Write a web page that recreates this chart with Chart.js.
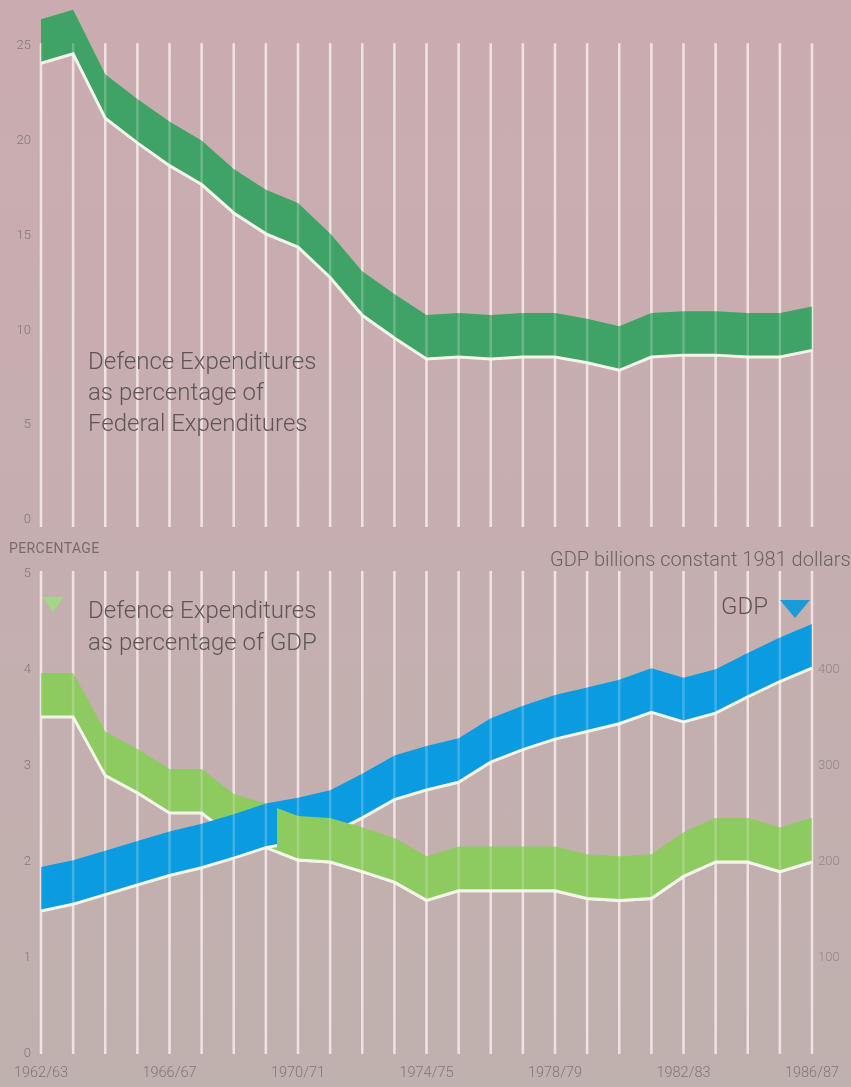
<!DOCTYPE html>
<html>
<head>
<meta charset="utf-8">
<script src="https://cdn.jsdelivr.net/npm/chart.js@4.4.0/dist/chart.umd.min.js"></script>
<style>
    html, body { margin: 0; padding: 0; }
    body {
        width: 851px; height: 1087px; position: relative; overflow: hidden;
        background: linear-gradient(#caacb0, #c6aeaf 50%, #bfb1ae);
        font-family: Roboto, sans-serif;
    }
    .box { position: absolute; left: 0; width: 851px; }
    #top-box { top: 0; height: 540px; }
    #bottom-box { top: 540px; height: 547px; }
    canvas { display: block; }
    .note { position: absolute; color: #5e5656; font-weight: 300; font-size: 24px; line-height: 31px; white-space: nowrap; }
    .small { position: absolute; color: #776b6b; white-space: nowrap; }
    .tri { position: absolute; width: 0; height: 0; border-left-style: solid; border-right-style: solid; border-left-color: transparent; border-right-color: transparent; border-top-style: solid; }
</style>
</head>
<body>
<div class="box" id="top-box"><canvas id="chart-federal" width="851" height="540"></canvas></div>
<div class="box" id="bottom-box"><canvas id="chart-gdp" width="851" height="547"></canvas></div>

<div class="note" style="left:88px; top:346px;">Defence Expenditures<br>as percentage of<br>Federal Expenditures</div>
<div class="small" style="left:9px; top:540px; font-size:14px; letter-spacing:0.4px;">PERCENTAGE</div>
<div class="small" style="left:550px; top:547px; font-size:20px; font-weight:300; color:#6b6262;">GDP billions constant 1981 dollars</div>
<div class="tri" style="left:42px; top:597px; border-left-width:11px; border-right-width:11px; border-top-width:15px; border-top-color:#a6d488;"></div>
<div class="note" style="left:88px; top:594px; line-height:32px;">Defence Expenditures<br>as percentage of GDP</div>
<div class="note" style="left:721px; top:591px;">GDP</div>
<div class="tri" style="left:780px; top:600px; border-left-width:15px; border-right-width:15px; border-top-width:18px; border-top-color:#1b9ad8;"></div>

<script>
const years = ['1962/63', '1963/64', '1964/65', '1965/66', '1966/67', '1967/68', '1968/69', '1969/70',
    '1970/71', '1971/72', '1972/73', '1973/74', '1974/75', '1975/76', '1976/77', '1977/78',
    '1978/79', '1979/80', '1980/81', '1981/82', '1982/83', '1983/84', '1984/85', '1985/86', '1986/87']
const shownYears = ['1962/63', '1966/67', '1970/71', '1974/75', '1978/79', '1982/83', '1986/87']

// defence expenditures as % of federal expenditures
const defenceFederalPct = [24.1, 24.6, 21.2, 19.9, 18.7, 17.7, 16.2, 15.1, 14.4, 12.8, 10.8, 9.6, 8.5,
    8.6, 8.5, 8.6, 8.6, 8.3, 7.9, 8.6, 8.7, 8.7, 8.6, 8.6, 8.95]
// defence expenditures as % of GDP
const defenceGdpPct = [3.51, 3.51, 2.9, 2.72, 2.51, 2.51, 2.25, 2.15, 2.02, 2.0, 1.9, 1.79, 1.6,
    1.7, 1.7, 1.7, 1.7, 1.62, 1.6, 1.62, 1.85, 2.0, 2.0, 1.9, 2.0]
// GDP, billions of constant 1981 dollars
const gdpBillions = [149, 156, 166, 176, 186, 194, 204, 215, 221, 229, 246, 265, 275,
    283, 304, 317, 328, 336, 344, 356, 346, 355, 372, 388, 402]

const federalTicks = [0, 5, 10, 15, 20, 25]
const pctTicks = [0, 1, 2, 3, 4, 5]
const gdpTicks = [100, 200, 300, 400]

const RIBBON = 44          // band thickness in px
const GDP_FRONT_UNTIL = 7.35   // blue band sits in front of the green one up to this year index

const tickFont = { family: 'Roboto', size: 13, weight: '300' }
const tickColor = '#847676'

function drawRibbon(chart, meta, color) {
    const ctx = chart.ctx
    const pts = meta.data
    ctx.save()
    ctx.fillStyle = color
    ctx.beginPath()
    pts.forEach((p, i) => i ? ctx.lineTo(p.x, p.y) : ctx.moveTo(p.x, p.y))
    for (let i = pts.length - 1; i >= 0; i--) ctx.lineTo(pts[i].x, pts[i].y - RIBBON)
    ctx.closePath()
    ctx.fill()
    ctx.restore()
}

function drawYearLines(chart, top, bottom, color) {
    const ctx = chart.ctx
    const x = chart.scales.x
    ctx.save()
    ctx.strokeStyle = color
    ctx.lineWidth = 2.5
    for (let i = 0; i < years.length; i++) {
        const px = x.getPixelForValue(i)
        ctx.beginPath()
        ctx.moveTo(px, top)
        ctx.lineTo(px, bottom)
        ctx.stroke()
    }
    ctx.restore()
}

const ribbons = {
    id: 'ribbons',
    beforeDatasetsDraw(chart, args, opts) {
        const y = chart.scales.y
        drawYearLines(chart, y.getPixelForValue(opts.gridTop) - 3, chart.chartArea.bottom + opts.gridBelow, '#ecdad9')
    },
    beforeDatasetDraw(chart, args) {
        const ds = chart.data.datasets[args.index]
        if (ds.ribbon) drawRibbon(chart, args.meta, ds.ribbon)
    },
    afterDatasetsDraw(chart, args, opts) {
        const ctx = chart.ctx
        chart.data.datasets.forEach((ds, i) => {
            if (!ds.frontFrom) return
            const meta = chart.getDatasetMeta(i)
            const cut = chart.scales.x.getPixelForValue(ds.frontFrom)
            ctx.save()
            ctx.beginPath()
            ctx.rect(cut, 0, chart.width - cut, chart.height)
            ctx.clip()
            drawRibbon(chart, meta, ds.ribbon)
            meta.controller.draw()
            ctx.restore()
        })
        const y = chart.scales.y
        drawYearLines(chart, y.getPixelForValue(opts.gridTop) - 3, chart.chartArea.bottom + opts.gridBelow, 'rgba(255,255,255,0.22)')
    }
}

function leftAxis(min, max, ticks) {
    return {
        min: min, max: max,
        afterFit: (s) => { s.width = 41 },
        afterBuildTicks: (s) => { s.ticks = ticks.map(v => ({ value: v })) },
        grid: { display: false, drawTicks: false },
        border: { display: false },
        ticks: { font: tickFont, color: tickColor, padding: 10 }
    }
}

new Chart(document.getElementById('chart-federal'), {
    type: 'line',
    data: {
        labels: years,
        datasets: [{
            data: defenceFederalPct,
            borderColor: '#f3f5ea',
            borderWidth: 3,
            pointRadius: 0,
            fill: false,
            tension: 0,
            ribbon: '#3fa366'
        }]
    },
    options: {
        responsive: false,
        animation: false,
        events: [],
        layout: { padding: { top: 7, bottom: 20, right: 39 } },
        plugins: {
            legend: { display: false },
            tooltip: { enabled: false },
            ribbons: { gridTop: 25, gridBelow: 7 }
        },
        scales: {
            x: { display: false, offset: false },
            y: leftAxis(0, 26.5, federalTicks)
        }
    },
    plugins: [ribbons]
})

new Chart(document.getElementById('chart-gdp'), {
    type: 'line',
    data: {
        labels: years,
        datasets: [{
            data: defenceGdpPct,
            yAxisID: 'y',
            borderColor: '#f3f5ea',
            borderWidth: 3,
            pointRadius: 0,
            fill: false,
            tension: 0,
            order: 2,
            ribbon: '#8dca5f',
            frontFrom: GDP_FRONT_UNTIL
        }, {
            data: gdpBillions,
            yAxisID: 'y1',
            borderColor: '#f3f5ea',
            borderWidth: 3,
            pointRadius: 0,
            fill: false,
            tension: 0,
            order: 1,
            ribbon: '#0b9be0'
        }]
    },
    options: {
        responsive: false,
        animation: false,
        events: [],
        layout: { padding: { top: 34 } },
        plugins: {
            legend: { display: false },
            tooltip: { enabled: false },
            ribbons: { gridTop: 5, gridBelow: 0 }
        },
        scales: {
            x: {
                offset: false,
                afterFit: (s) => { s.height = 33 },
                grid: { display: false, drawTicks: false },
                border: { display: false },
                ticks: {
                    autoSkip: false, maxRotation: 0, color: tickColor, padding: 11,
                    font: { family: 'Roboto', size: 14.5, weight: '300' },
                    callback: (v, i) => shownYears.includes(years[i]) ? years[i] : ''
                }
            },
            y: leftAxis(0, 5, pctTicks),
            y1: {
                position: 'right',
                min: 0, max: 500,
                afterFit: (s) => { s.width = 39 },
                afterBuildTicks: (s) => { s.ticks = gdpTicks.map(v => ({ value: v })) },
                grid: { display: false, drawTicks: false },
                border: { display: false },
                ticks: { font: tickFont, color: '#938686', padding: 6 }
            }
        }
    },
    plugins: [ribbons]
})
</script>
</body>
</html>
